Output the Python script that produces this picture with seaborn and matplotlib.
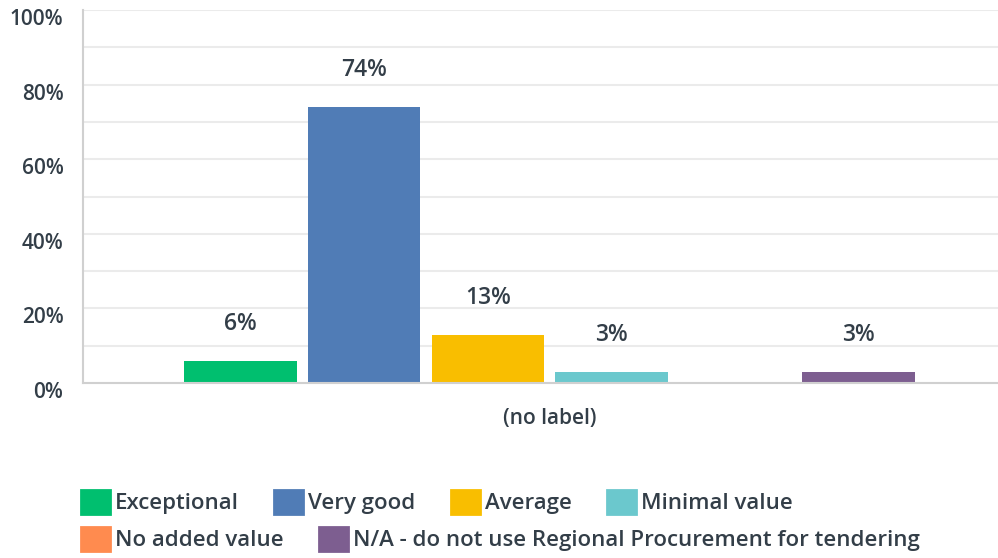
import matplotlib
matplotlib.use("Agg")
import matplotlib.pyplot as plt
import matplotlib.transforms as mtrans
import seaborn as sns
import pandas as pd
from matplotlib.patches import Patch
from matplotlib.ticker import MultipleLocator, FuncFormatter

sns.set_theme(style="white")
plt.rcParams['font.family'] = ['Open Sans', 'DejaVu Sans']

# --- Data ---
categories = ["Exceptional", "Very good", "Average", "Minimal value",
              "No added value", "N/A - do not use Regional Procurement for tendering"]
values = [6, 74, 13, 3, 0, 3]
group_label = "(no label)"
colors = ["#00bf6f", "#507cb6", "#f9be00", "#6bc8cd", "#ff8b4f", "#7d5e90"]

text_color = "#333e48"

df = pd.DataFrame({"group": [group_label] * len(categories),
                   "answer": categories,
                   "pct": values})

fig = plt.figure(figsize=(9.98, 5.58), dpi=100)
ax = fig.add_axes([0.083, 0.3136, 0.917, 0.6684])

sns.barplot(data=df, x="group", y="pct", hue="answer", hue_order=categories,
            palette=colors, gap=0.09, width=0.81, legend=False, ax=ax,
            saturation=1, linewidth=0)

# value labels
for cont, v in zip(ax.containers, values):
    lbl = [f"{v}%"] if v > 0 else [""]
    ax.bar_label(cont, labels=lbl, padding=18, fontsize=16.5,
                 color=text_color, fontweight="semibold")

ax.set_ylim(0, 100)
ax.set_xlim(-0.51, 0.49)
ax.yaxis.set_major_locator(MultipleLocator(20))
ax.yaxis.set_minor_locator(MultipleLocator(10))
ax.yaxis.set_major_formatter(FuncFormatter(lambda y, _: f"{y:.0f}%"))
ax.grid(axis="y", which="both", color="#ebebeb", linewidth=1.5)
ax.set_axisbelow(True)
ax.tick_params(axis="y", which="both", length=0, pad=14, labelsize=15,
               labelcolor=text_color)
ax.tick_params(axis="x", length=0, pad=18, labelsize=15, labelcolor=text_color)
shift = mtrans.ScaledTranslation(0, -0.07, fig.dpi_scale_trans)
for t in ax.get_yticklabels():
    t.set_fontweight("semibold")
    t.set_transform(t.get_transform() + shift)
for t in ax.get_xticklabels():
    t.set_fontweight("semibold")
ax.set_xlabel("")
ax.set_ylabel("")

for s in ["top", "right"]:
    ax.spines[s].set_visible(False)
for s in ["left", "bottom"]:
    ax.spines[s].set_color("#d0d0d0")
    ax.spines[s].set_linewidth(1.5)

# legend in two flowing rows
handles = [Patch(facecolor=c, edgecolor=c, linewidth=2, joinstyle="round")
           for c in colors]
leg_kw = dict(frameon=False, handlelength=1.3, handleheight=1.3,
              handletextpad=0.22, columnspacing=1.6, borderpad=0,
              borderaxespad=0, labelcolor=text_color,
              prop={"weight": "semibold", "size": 16})
leg1 = fig.legend(handles[:4], categories[:4], ncol=4, loc="center left",
                  bbox_to_anchor=(0.081, 1 - 502 / 558), **leg_kw)
leg2 = fig.legend(handles[4:], categories[4:], ncol=2, loc="center left",
                  bbox_to_anchor=(0.081, 1 - 539 / 558), **leg_kw)

fig.savefig("out.png", dpi=100)
